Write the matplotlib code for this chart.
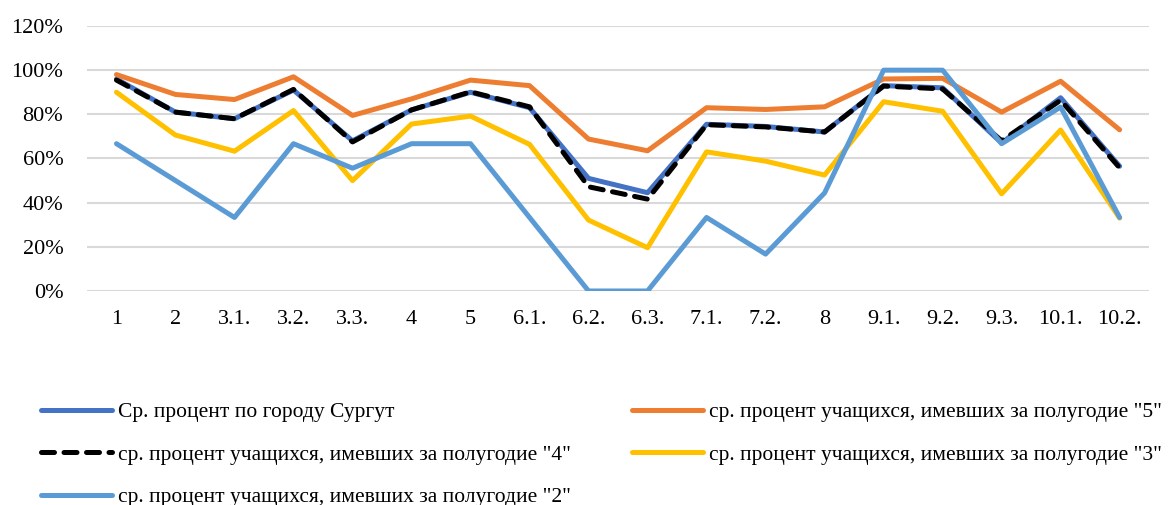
import numpy as np
import matplotlib
matplotlib.use("Agg")
import matplotlib.pyplot as plt
from matplotlib.ticker import PercentFormatter

plt.rcParams['font.family'] = ['Liberation Serif', 'DejaVu Serif']

categories = ["1", "2", "3.1.", "3.2.", "3.3.", "4", "5", "6.1.", "6.2.", "6.3.",
              "7.1.", "7.2.", "8", "9.1.", "9.2.", "9.3.", "10.1.", "10.2."]

surgut = [96, 81, 78, 91, 68, 82, 90, 83, 51, 44.5, 75.5, 74.5, 72, 93, 92, 67, 87.5, 56.5]
grade5 = [98, 89, 86.7, 97, 79.5, 87, 95.5, 93, 68.8, 63.5, 83, 82.2, 83.4, 96, 96.3, 81, 95, 73]
grade4 = [95.5, 81, 78, 91.3, 67.5, 82, 90.2, 83.4, 47.2, 41.6, 75.3, 74.3, 72, 92.8, 91.5, 68, 86.4, 55.8]
grade3 = [90, 70.6, 63.3, 81.7, 50, 75.6, 79.2, 66.4, 32.1, 19.6, 63, 58.8, 52.5, 85.7, 81.4, 44, 72.9, 33]
grade2 = [66.7, 50, 33.3, 66.7, 55.6, 66.7, 66.7, 33.3, 0, 0, 33.3, 16.7, 44.4, 100, 100, 66.7, 83.3, 33.3]

labels = ['Ср. процент по городу Сургут',
          'ср. процент учащихся, имевших за полугодие "5"',
          'ср. процент учащихся, имевших за полугодие "4"',
          'ср. процент учащихся, имевших за полугодие "3"',
          'ср. процент учащихся, имевших за полугодие "2"']

fig = plt.figure(figsize=(11.69, 5.05), dpi=100)
ax = fig.add_axes([0.0744, 0.4238, 0.9086, 0.5247])

x = np.arange(len(categories))
lw = 3.6
l1, = ax.plot(x, surgut, color='#4472C4', lw=lw, label=labels[0], solid_capstyle='round')
l2, = ax.plot(x, grade5, color='#ED7D31', lw=lw, label=labels[1], solid_capstyle='round')
l3, = ax.plot(x, grade4, color='black', lw=lw, ls=(0, (2.6, 1.9)), dash_capstyle='round',
              label=labels[2])
l4, = ax.plot(x, grade3, color='#FFC000', lw=lw, label=labels[3], solid_capstyle='round')
l5, = ax.plot(x, grade2, color='#5B9BD5', lw=lw, label=labels[4], solid_capstyle='round')

ax.set_xlim(-0.5, len(categories) - 0.5)
ax.set_ylim(0, 120)
ax.set_yticks(np.arange(0, 121, 20))
ax.yaxis.set_major_formatter(PercentFormatter(decimals=0))
ax.set_xticks(x)
ax.set_xticklabels(categories)
ax.tick_params(axis='both', length=0, labelsize=16, colors='#000000')
ax.tick_params(axis='x', pad=14)
ax.tick_params(axis='y', pad=17)
ax.grid(axis='y', color='#d9d9d9', lw=1.5)
ax.set_axisbelow(True)
for s in ax.spines.values():
    s.set_visible(False)

# порядок по столбцам: левый столбец - 1, 4, 2; правый - 5, 3
fig.legend([l1, l3, l5, l2, l4], [labels[0], labels[2], labels[4], labels[1], labels[3]],
           ncol=2, loc='upper left', bbox_to_anchor=(0.0277, 0.221), frameon=False,
           fontsize=15.5, handlelength=3.3, handletextpad=0.28, columnspacing=2.84,
           labelspacing=1.05, borderaxespad=0)

fig.savefig('out.png', dpi=100)
